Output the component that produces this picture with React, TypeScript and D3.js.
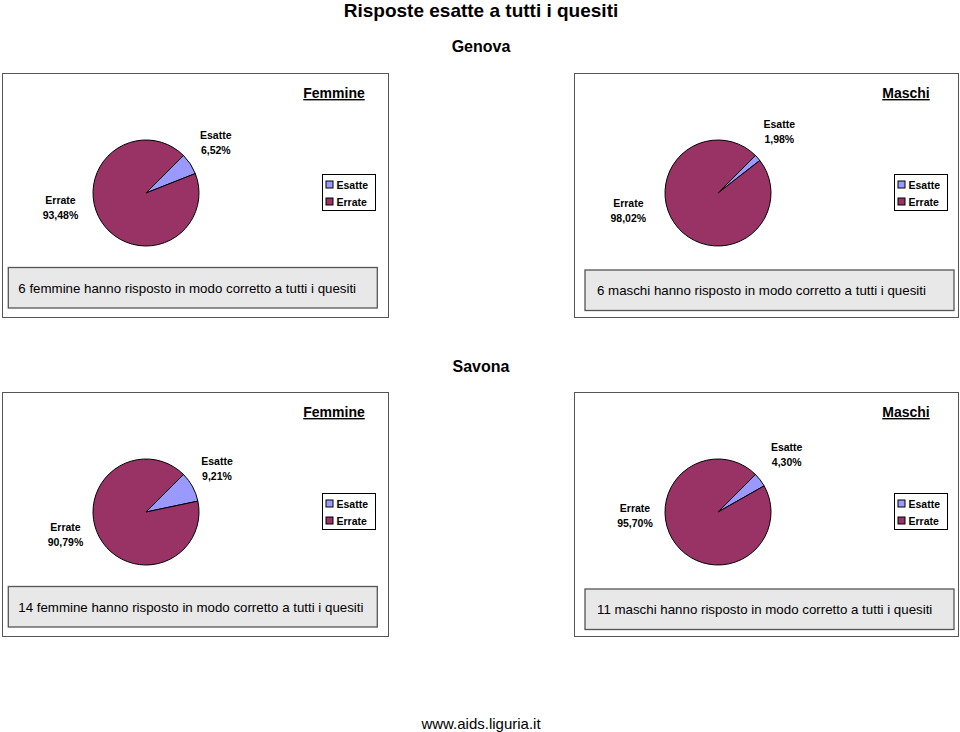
import React from "react";
import * as d3 from "d3";

// ---- data ----
const mainTitle = "Risposte esatte a tutti i quesiti";
const cities = ["Genova", "Savona"];
const groups = ["Femmine", "Maschi"];
const categories = ["Esatte", "Errate"];
// order: Genova-Femmine, Genova-Maschi, Savona-Femmine, Savona-Maschi
const esattePct = [6.52, 1.98, 9.21, 4.3];
const erratePct = [93.48, 98.02, 90.79, 95.7];
const correctCounts = [6, 6, 14, 11];
const footer = "www.aids.liguria.it";

// ---- styles / layout ----
const colors = ["#9999FF", "#993366"];
const FONT = "'Liberation Sans', Arial, Helvetica, sans-serif";
const W = 960;
const H = 732;
const panelX = [2, 574];
const panelY = [73, 392];
const panelW = [386, 384];
const panelH = 244;
const cityTitleY = [52, 372];
const R = 53;
const pieCx = 144;
const pieCy = 120;
// label offsets relative to pie centre: [dx, dy of first line]
const esatteLabelOff = [
  [69.8, -58],
  [61.3, -69],
  [71, -51.3],
  [68.7, -65.3],
];
const errateLabelOff = [
  [-85.5, 7],
  [-89.7, 9.7],
  [-80.5, 15.3],
  [-83, -3.7],
];
const noteBox = [
  [6.3, 194.5],
  [11, 197],
];
const noteBoxW = 369;
const noteBoxH = 40.5;
const noteTextDx = [10, 12];

const fmtPct = (v: number) => d3.format(".2f")(v).replace(".", ",") + "%";

const pieGen = d3
  .pie<number>()
  .sort(null)
  .value((d) => d)
  .startAngle(Math.PI / 4)
  .endAngle(Math.PI / 4 + 2 * Math.PI);
const arcGen = d3.arc<d3.PieArcDatum<number>>().innerRadius(0).outerRadius(R);

function Panel({ idx }: { idx: number }) {
  const row = Math.floor(idx / 2);
  const col = idx % 2;
  const x0 = panelX[col];
  const y0 = panelY[row];
  const values = [esattePct[idx], erratePct[idx]];
  const arcs = pieGen(values);
  const cx = pieCx;
  const cy = pieCy;
  const labelOffs = [esatteLabelOff[idx], errateLabelOff[idx]];
  const note = `${correctCounts[idx]} ${groups[col].toLowerCase()} hanno risposto in modo corretto a tutti i quesiti`;
  const [bx, by] = noteBox[col];
  return (
    <g transform={`translate(${x0},${y0})`}>
      <rect
        x={0.5}
        y={0.5}
        width={panelW[col]}
        height={panelH}
        fill="#fff"
        stroke="#555"
        strokeWidth={1}
      />
      <text
        x={332}
        y={25}
        textAnchor="middle"
        fontSize={14}
        fontWeight="bold"
        fill="#000"
        style={{ textDecoration: "underline" }}
      >
        {groups[col]}
      </text>
      <g transform={`translate(${cx},${cy})`}>
        {arcs.map((a, i) => (
          <path
            key={i}
            d={arcGen(a) || ""}
            fill={colors[i]}
            stroke="#000"
            strokeWidth={1}
            strokeLinejoin="round"
          />
        ))}
        {arcs.map((a, i) => (
          <text
            key={"l" + i}
            textAnchor="middle"
            fontSize={10.5}
            fontWeight="bold"
            fill="#000"
          >
            <tspan x={labelOffs[i][0]} y={labelOffs[i][1] + 4}>
              {categories[i]}
            </tspan>
            <tspan x={labelOffs[i][0]} y={labelOffs[i][1] + 19}>
              {fmtPct(values[i])}
            </tspan>
          </text>
        ))}
      </g>
      <g transform="translate(320.5,101.5)">
        <rect width={53} height={36} fill="#fff" stroke="#000" strokeWidth={1} />
        {categories.map((c, i) => (
          <g key={c} transform={`translate(0,${10 + i * 17})`}>
            <rect x={3.5} y={-3.5} width={7} height={7} fill={colors[i]} stroke="#000" strokeWidth={1} />
            <text x={14} y={4} fontSize={10.5} fontWeight="bold" fill="#000">
              {c}
            </text>
          </g>
        ))}
      </g>
      <rect
        x={bx}
        y={by}
        width={noteBoxW}
        height={noteBoxH}
        fill="#e8e8e8"
        stroke="#555"
        strokeWidth={1.3}
      />
      <text x={bx + noteTextDx[col]} y={by + 25} fontSize={13.3} fill="#000">
        {note}
      </text>
    </g>
  );
}

export default function App() {
  return (
    <svg
      width={W}
      height={H}
      style={{ position: "absolute", left: 0, top: 0, background: "#fff" }}
      fontFamily={FONT}
    >
      <rect width={W} height={H} fill="#fff" />
      <text x={481} y={17} textAnchor="middle" fontSize={19} fontWeight="bold" fill="#000">
        {mainTitle}
      </text>
      {cities.map((c, i) => (
        <text key={c} x={481} y={cityTitleY[i]} textAnchor="middle" fontSize={16} fontWeight="bold" fill="#000">
          {c}
        </text>
      ))}
      {[0, 1, 2, 3].map((i) => (
        <Panel key={i} idx={i} />
      ))}
      <text x={481} y={729} textAnchor="middle" fontSize={15} fill="#000">
        {footer}
      </text>
    </svg>
  );
}
